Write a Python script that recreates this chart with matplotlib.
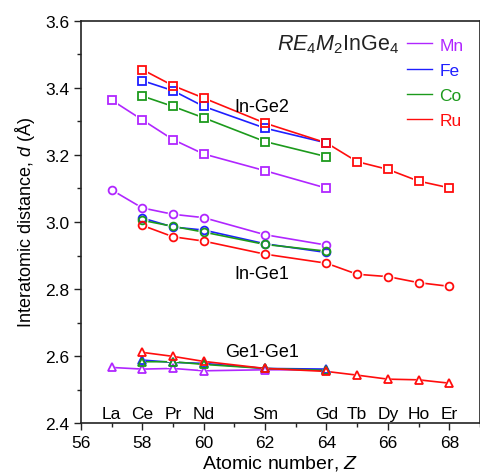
import matplotlib
matplotlib.use("Agg")
import matplotlib.pyplot as plt
from matplotlib.lines import Line2D
from matplotlib.ticker import MultipleLocator, FormatStrFormatter

plt.rcParams['font.family'] = ['Liberation Sans', 'DejaVu Sans']
plt.rcParams['mathtext.fontset'] = 'custom'
plt.rcParams['mathtext.rm'] = 'Liberation Sans'
plt.rcParams['mathtext.it'] = 'Liberation Sans:italic'

# Atomic numbers of the rare-earth elements
z_la_gd = [57, 58, 59, 60, 62, 64]
z_ce_gd = [58, 59, 60, 62, 64]
z_ce_er = [58, 59, 60, 62, 64, 65, 66, 67, 68]

elements = ["La", "Ce", "Pr", "Nd", "Sm", "Gd", "Tb", "Dy", "Ho", "Er"]
element_z = [57, 58, 59, 60, 62, 64, 65, 66, 67, 68]

# In-Ge2 distances (Å)
inge2_mn = [3.364, 3.305, 3.246, 3.203, 3.153, 3.101]
inge2_fe = [3.422, 3.392, 3.345, 3.280, 3.236]
inge2_co = [3.376, 3.345, 3.311, 3.240, 3.195]
inge2_ru = [3.455, 3.407, 3.370, 3.295, 3.236, 3.180, 3.157, 3.122, 3.102]

# In-Ge1 distances (Å)
inge1_mn = [3.096, 3.042, 3.023, 3.013, 2.962, 2.931]
inge1_fe = [3.012, 2.985, 2.976, 2.935, 2.909]
inge1_co = [3.005, 2.987, 2.970, 2.933, 2.913]
inge1_ru = [2.990, 2.956, 2.943, 2.904, 2.877, 2.844, 2.837, 2.819, 2.808]

# Ge1-Ge1 distances (Å)
gege_mn = [2.566, 2.561, 2.563, 2.556, 2.559, 2.559]
gege_fe = [2.588, 2.581, 2.578, 2.563, 2.561]
gege_co = [2.583, 2.583, 2.575, 2.563, 2.557]
gege_ru = [2.611, 2.599, 2.584, 2.563, 2.554, 2.543, 2.531, 2.529, 2.519]

metals = ["Mn", "Fe", "Co", "Ru"]
colors = {"Mn": "#b026ff", "Fe": "#1f1fff", "Co": "#1c9a1c", "Ru": "#ff0d0d"}
xs = {"Mn": z_la_gd, "Fe": z_ce_gd, "Co": z_ce_gd, "Ru": z_ce_er}
series = [
    ("s", {"Mn": inge2_mn, "Fe": inge2_fe, "Co": inge2_co, "Ru": inge2_ru}),
    ("o", {"Mn": inge1_mn, "Fe": inge1_fe, "Co": inge1_co, "Ru": inge1_ru}),
    ("^", {"Mn": gege_mn, "Fe": gege_fe, "Co": gege_co, "Ru": gege_ru}),
]

fig = plt.figure(figsize=(4.81, 4.77), dpi=100)
ax = fig.add_axes([0.168, 0.111, 0.830, 0.843])

for marker, data in series:
    for m in metals:
        c = colors[m]
        ax.plot(xs[m], data[m], color=c, lw=1.2, zorder=2)
        ax.plot(xs[m], data[m], ls="none", marker=marker, ms=8.5,
                mfc="white", mec="white", mew=0, zorder=3)
    for m in metals:
        c = colors[m]
        ax.plot(xs[m], data[m], ls="none", marker=marker,
                ms=6.2 if marker == "^" else 5.6,
                mfc="none", mec=c, mew=1.3, zorder=4)

for name, z in zip(elements, element_z):
    ax.text(z, 2.43, name, ha="center", va="center", fontsize=12.5)

ax.text(61.9, 3.346, "In-Ge2", ha="center", va="center", fontsize=13)
ax.text(61.9, 2.845, "In-Ge1", ha="center", va="center", fontsize=13)
ax.text(61.9, 2.613, "Ge1-Ge1", ha="center", va="center", fontsize=13)

ax.text(66.37, 3.531, r"$\mathit{RE}_4\mathit{M}_2$InGe$_4$", ha="right",
        va="center", fontsize=15.5, color="#222222")

handles = [Line2D([], [], color=colors[m], lw=1.0) for m in metals]
leg = ax.legend(handles, metals, loc="upper right", bbox_to_anchor=(0.985, 0.985),
                frameon=False, fontsize=12.5, handlelength=1.4, handletextpad=0.45,
                labelspacing=0.58, borderaxespad=0.2)
for t, m in zip(leg.get_texts(), metals):
    t.set_color(colors[m])

ax.set_xlim(56, 69)
ax.set_ylim(2.4, 3.6)
ax.xaxis.set_major_locator(MultipleLocator(2))
ax.xaxis.set_minor_locator(MultipleLocator(1))
ax.yaxis.set_major_locator(MultipleLocator(0.2))
ax.yaxis.set_minor_locator(MultipleLocator(0.1))
ax.yaxis.set_major_formatter(FormatStrFormatter("%.1f"))
ax.tick_params(which="both", direction="out", top=False, right=False,
               labelsize=12.5, color="#222222")
ax.tick_params(which="major", length=5, width=1.0)
ax.tick_params(which="minor", length=3, width=1.0)
for s in ax.spines.values():
    s.set_linewidth(1.2)
    s.set_color("#222222")

ax.set_xlabel(r"Atomic number, $\mathit{Z}$", fontsize=14, labelpad=2)
ax.set_ylabel(r"Interatomic distance, $\mathit{d}$ (Å)", fontsize=13, labelpad=6)

fig.savefig("out.png", dpi=100)
